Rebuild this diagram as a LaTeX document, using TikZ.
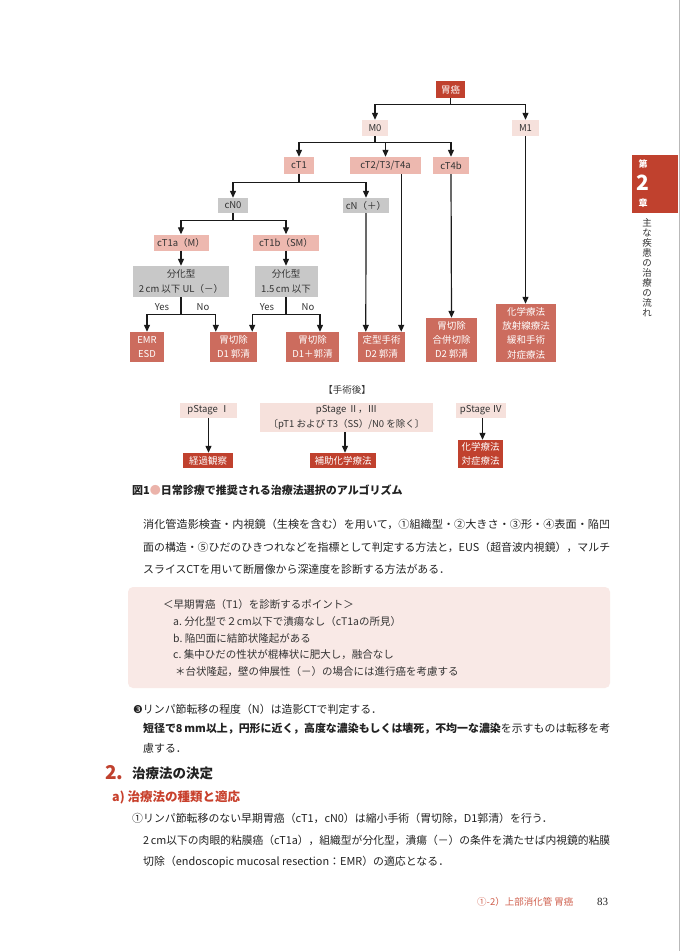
\documentclass[tikz,border=0pt]{standalone}
\usepackage{graphicx}
\usepackage{fontspec}
\setmainfont{Noto Sans CJK JP}
\newfontfamily\dejavu{DejaVu Sans}
\newfontfamily\serifnum{Liberation Serif}
\usetikzlibrary{arrows.meta}
\definecolor{deepred}{HTML}{C0412E}
\definecolor{resred}{HTML}{CC6C5E}
\definecolor{lightpink}{HTML}{F6E1DC}
\definecolor{midpink}{HTML}{EDB8AF}
\definecolor{grayfill}{HTML}{C8C8C8}
\definecolor{boxpink}{HTML}{F9E9E6}
\definecolor{dotpink}{HTML}{EBB3AA}
\definecolor{headred}{HTML}{C8402C}
\definecolor{footred}{HTML}{D0604E}
\definecolor{txt}{HTML}{333333}
\definecolor{bodytxt}{HTML}{222222}
\definecolor{linec}{HTML}{1A1A1A}
\newcommand\jline[1]{\resizebox{467pt}{\height}{#1}}
\tikzset{
  fc/.style={font=\fontsize{9.5}{14.3}\selectfont, align=center, text=txt, inner sep=0pt},
  deep/.style={fc, fill=deepred, text=white},
  res/.style={fc, fill=resred, text=white},
  lpink/.style={fc, fill=lightpink},
  mpink/.style={fc, fill=midpink},
  grayb/.style={fc, fill=grayfill},
  arr/.style={draw=linec, line width=1.2pt, -{Triangle[length=7pt,width=6pt]}},
  body/.style={font=\fontsize{10.9}{13}\selectfont, text=bodytxt, inner sep=0pt, anchor=base west},
  boxtxt/.style={font=\fontsize{10.5}{12}\selectfont, text=txt, inner sep=0pt, anchor=west},
}
\begin{document}
\begin{tikzpicture}[x=1pt,y=-1pt]
\useasboundingbox (0,0) rectangle (680,951);
\fill[white] (0,0) rectangle (680,951);

% ---------- flowchart ----------
\node[deep, minimum width=29, minimum height=17] (gan) at (450.5,89.5) {胃癌};
\node[lpink, minimum width=26, minimum height=16] (M0) at (375,128) {M0};
\node[lpink, minimum width=27, minimum height=16] (M1) at (525.5,128) {M1};
\node[mpink, minimum width=30, minimum height=17] (cT1) at (299,165.5) {cT1};
\node[mpink, minimum width=71, minimum height=17] (cT234) at (385.5,165.5) {cT2/T3/T4a};
\node[mpink, minimum width=36, minimum height=17] (cT4b) at (451,165.5) {cT4b};
\node[grayb, minimum width=30, minimum height=15] (cN0) at (233,205.5) {cN0};
\node[grayb, minimum width=46, minimum height=15] (cNp) at (366,205.5) {cN（＋）};
\node[mpink, minimum width=55, minimum height=16] (cT1a) at (181,242.5) {cT1a（M）};
\node[mpink, minimum width=66, minimum height=16] (cT1b) at (286,242.5) {cT1b（SM）};
\node[grayb, minimum width=96, minimum height=31] (q1) at (181,281.5) {分化型\\2\,cm 以下 UL（－）};
\node[grayb, minimum width=63, minimum height=31] (q2) at (286,281.5) {分化型\\1.5\,cm 以下};
\node[res, minimum width=34, minimum height=30] (emr) at (147,347) {EMR\\ESD};
\node[res, minimum width=47, minimum height=30] (d1) at (233.5,347) {胃切除\\D1 郭清};
\node[res, minimum width=53, minimum height=30] (d1p) at (312.5,347) {胃切除\\D1＋郭清};
\node[res, minimum width=47, minimum height=30] (d2) at (381.5,347) {定型手術\\D2 郭清};
\node[res, minimum width=51, minimum height=44] (comb) at (451.5,340) {胃切除\\合併切除\\D2 郭清};
\node[res, minimum width=60, minimum height=58] (chemo) at (526,333) {化学療法\\放射線療法\\緩和手術\\対症療法};

\draw[arr] (gan.south) -- ++(0,6) -| (M0.north);
\draw[arr] (gan.south) -- ++(0,6) -| (M1.north);
\draw[arr] (M0.south) -- ++(0,6) -| (cT1.north);
\draw[arr] (M0.south) -- ++(0,6) -| (cT234.north);
\draw[arr] (M0.south) -- ++(0,6) -| (cT4b.north);
\draw[arr] (cT1.south) -- ++(0,8) -| (cN0.north);
\draw[arr] (cT1.south) -- ++(0,8) -| (cNp.north);
\draw[arr] (cN0.south) -- ++(0,7) -| (cT1a.north);
\draw[arr] (cN0.south) -- ++(0,7) -| (cT1b.north);
\draw[arr] (cT1a.south) -- (q1.north);
\draw[arr] (cT1b.south) -- (q2.north);
\draw[arr] (q1.south) -- ++(0,17) -| (emr.north);
\draw[arr] (q1.south) -- ++(0,17) -| ([xshift=6pt]d1.north west);
\draw[arr] (q2.south) -- ++(0,17) -| ([xshift=-5pt]d1.north east);
\draw[arr] (q2.south) -- ++(0,17) -| ([xshift=7.5pt]d1p.north);
\draw[arr] (cNp.south) -- ([xshift=8pt]d2.north west);
\draw[arr] ([xshift=-4pt]d2.north east |- cT234.south) -- ([xshift=-4pt]d2.north east);
\draw[arr] (cT4b.south) -- (comb.north);
\draw[arr] (M1.south) -- (M1.south |- chemo.north);

\node[fc] (yes1) at (162,307) {Yes};
\node[fc] (no1) at (203,307) {No};
\node[fc] (yes2) at (267,307) {Yes};
\node[fc] (no2) at (308,307) {No};

% ---------- post-operative ----------
\node[fc] (postop) at (347,390) {【手術後】};
\node[lpink, minimum width=57, minimum height=15] (pS1) at (208.5,410.5) {pStage Ⅰ};
\node[lpink, minimum width=173, minimum height=29] (pS23) at (346.5,417.5) {pStage Ⅱ，Ⅲ\\〔pT1 および T3（SS）/N0 を除く〕};
\node[lpink, minimum width=50, minimum height=15] (pS4) at (481,410.5) {pStage Ⅳ};
\node[deep, minimum width=50, minimum height=15] (r1) at (208,460.5) {経過観察};
\node[deep, minimum width=66, minimum height=15] (r2) at (343,460.5) {補助化学療法};
\node[deep, minimum width=45, minimum height=28] (r3) at (480.5,454) {化学療法\\対症療法};
\draw[arr] (pS1.south) -- (pS1.south |- r1.north);
\draw[arr] ([xshift=-1.5pt]pS23.south) -- ([xshift=-1.5pt]pS23.south |- r2.north);
\draw[arr] ([xshift=1.5pt]pS4.south) -- ([xshift=1.5pt]pS4.south |- r3.north);

% ---------- caption ----------
\node[anchor=west, inner sep=0pt, text=bodytxt, font=\fontsize{11}{13}\bfseries\selectfont] (cap) at (132,490)
  {図1{\color{dotpink}●}日常診療で推奨される治療法選択のアルゴリズム};

% ---------- body ----------
\node[body] (p1a) at (143,528) {\jline{消化管造影検査・内視鏡（生検を含む）を用いて，①組織型・②大きさ・③形・④表面・陥凹}};
\node[body] (p1b) at (143,551) {\jline{面の構造・⑤ひだのひきつれなどを指標として判定する方法と，EUS（超音波内視鏡），マルチ}};
\node[body] (p1c) at (143,573) {スライスCTを用いて断層像から深達度を診断する方法がある．};

\fill[boxpink, rounded corners=5pt] (128,587) rectangle (610,688);
\node[boxtxt] (b0) at (163,605) {＜早期胃癌（T1）を診断するポイント＞};
\node[boxtxt] (b1) at (173,622) {a.\ 分化型で２cm以下で潰瘍なし（cT1aの所見）};
\node[boxtxt] (b2) at (173,638.5) {b.\ 陥凹面に結節状隆起がある};
\node[boxtxt] (b3) at (173,655) {c.\ 集中ひだの性状が棍棒状に肥大し，融合なし};
\node[boxtxt] (b4) at (175,672) {＊台状隆起，壁の伸展性（－）の場合には進行癌を考慮する};

\node[body] (p2) at (133,713) {{\dejavu ❸}リンパ節転移の程度（N）は造影CTで判定する．};
\node[body] (p3a) at (143,732) {\jline{\textbf{短径で8\,mm以上，円形に近く，高度な濃染もしくは壊死，不均一な濃染}を示すものは転移を考}};
\node[body] (p3b) at (143,752) {慮する．};

\node[anchor=west, inner sep=0pt, text=deepred, font=\fontsize{19}{21}\bfseries\selectfont] (h2n) at (105,773) {2.};
\node[anchor=west, inner sep=0pt, text=bodytxt, font=\fontsize{13.5}{15}\bfseries\selectfont] (h2) at (132,773) {治療法の決定};
\node[anchor=west, inner sep=0pt, text=headred, font=\fontsize{12.5}{14}\bfseries\selectfont] (h3) at (112,797) {a) 治療法の種類と適応};

\node[body] (p4) at (132,822) {①リンパ節転移のない早期胃癌（cT1，cN0）は縮小手術（胃切除，D1郭清）を行う．};
\node[body] (p5a) at (143,844) {\jline{2\,cm以下の肉眼的粘膜癌（cT1a），組織型が分化型，潰瘍（－）の条件を満たせば内視鏡的粘膜}};
\node[body] (p5b) at (143,865) {切除（endoscopic mucosal resection：EMR）の適応となる．};

% ---------- footer ----------
\node[anchor=west, inner sep=0pt, text=footred, font=\fontsize{9.5}{11}\selectfont] (foot) at (477,902) {①-2）上部消化管 胃癌};
\node[anchor=west, inner sep=0pt, text=bodytxt, font=\serifnum\fontsize{11}{12}\selectfont] (pg) at (597,902) {83};

% ---------- side tab ----------
\draw[gray!55, line width=0.6pt] (679.5,0) -- (679.5,951);
\fill[deepred] (632,155) rectangle (678,213);
\node[text=white, inner sep=0pt, font=\fontsize{9}{10}\bfseries\selectfont] (t1) at (643,164) {第};
\node[text=white, inner sep=0pt, font=\fontsize{21}{22}\bfseries\selectfont] (t2) at (643,183) {2};
\node[text=white, inner sep=0pt, font=\fontsize{9}{10}\bfseries\selectfont] (t3) at (643,203) {章};
\node[anchor=north, inner sep=0pt, align=center, text=txt, font=\fontsize{9.5}{10}\selectfont] (vt) at (647,218)
  {主\\な\\疾\\患\\の\\治\\療\\の\\流\\れ};
\end{tikzpicture}
\end{document}
